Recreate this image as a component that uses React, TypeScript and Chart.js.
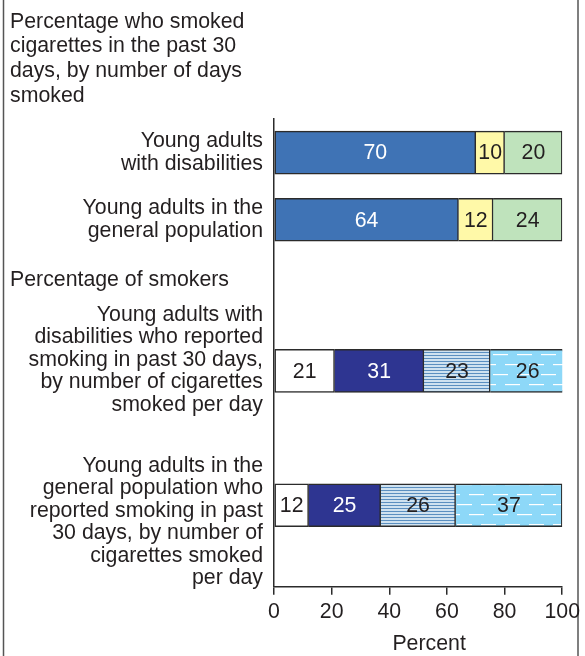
import React, { useEffect, useRef } from "react";
import { Chart, registerables } from "chart.js";

Chart.register(...registerables);

// ---------- Data ----------
const TITLE_LINES = [
  "Percentage who smoked",
  "cigarettes in the past 30",
  "days, by number of days",
  "smoked",
];
const SECTION_LABEL = "Percentage of smokers";
const X_TITLE = "Percent";

const CATEGORIES: string[][] = [
  ["Young adults", "with disabilities"],
  ["Young adults in the", "general population"],
  [
    "Young adults with",
    "disabilities who reported",
    "smoking in past 30 days,",
    "by number of cigarettes",
    "smoked per day",
  ],
  [
    "Young adults in the",
    "general population who",
    "reported smoking in past",
    "30 days, by number of",
    "cigarettes smoked",
    "per day",
  ],
];

const X_TICKS = [0, 20, 40, 60, 80, 100];

// Days smoked in past 30 days (rows 1-2)
const DAYS_SEG1 = [70, 64];
const DAYS_SEG2 = [10, 12];
const DAYS_SEG3 = [20, 24];

// Cigarettes smoked per day (rows 3-4)
const CIGS_SEG1 = [21, 12];
const CIGS_SEG2 = [31, 25];
const CIGS_SEG3 = [23, 26];
const CIGS_SEG4 = [26, 37];

// ---------- Layout / style ----------
const ROW_SLOTS = [2, 6, 15, 23];
const Y_MAX = 27.85;
const LABEL_SHIFT = [0, 0, -11, 17];
const LABEL_LINE_HEIGHT = 22.5;
const FONT_SIZE = 21.3;
const FONT = "'Liberation Sans', Arial, Helvetica, sans-serif";
const TEXT = "#231f20";
const EDGE = "#2b2b2b";

function makeHatch(): CanvasPattern | string {
  const c = document.createElement("canvas");
  c.width = 4;
  c.height = 3;
  const g = c.getContext("2d");
  if (!g) return "#a9c6df";
  g.fillStyle = "#cfe2f0";
  g.fillRect(0, 0, 4, 3);
  g.fillStyle = "#5b8fc0";
  g.fillRect(0, 1, 4, 1);
  return g.createPattern(c, "repeat") || "#a9c6df";
}

function makeDash(): CanvasPattern | string {
  const c = document.createElement("canvas");
  c.width = 24;
  c.height = 20;
  const g = c.getContext("2d");
  if (!g) return "#8dd8f8";
  g.fillStyle = "#8dd8f8";
  g.fillRect(0, 0, 24, 20);
  g.fillStyle = "#ffffff";
  g.fillRect(1, 4, 15, 1.2);
  g.fillRect(13, 14, 11, 1.2);
  g.fillRect(0, 14, 4, 1.2);
  return g.createPattern(c, "repeat") || "#8dd8f8";
}

function rows(values: number[], offset: number) {
  return values.map((v, i) => ({ x: v, y: ROW_SLOTS[offset + i] }));
}

export default function App() {
  const ref = useRef<HTMLCanvasElement | null>(null);

  useEffect(() => {
    const canvas = ref.current;
    if (!canvas) return;
    const hatch = makeHatch();
    const dash = makeDash();

    const base = {
      borderColor: EDGE,
      borderWidth: 1.5,
      barThickness: 43,
    };

    const datasets: any[] = [
      { label: "Days seg 1", data: rows(DAYS_SEG1, 0), backgroundColor: "#3f73b5", borderSkipped: false, valueColor: "#ffffff", ...base },
      { label: "Days seg 2", data: rows(DAYS_SEG2, 0), backgroundColor: "#fff9a8", borderSkipped: "start", valueColor: TEXT, ...base },
      { label: "Days seg 3", data: rows(DAYS_SEG3, 0), backgroundColor: "#bfe3bc", borderSkipped: "start", valueColor: TEXT, ...base },
      { label: "Cigs seg 1", data: rows(CIGS_SEG1, 2), backgroundColor: "#ffffff", borderSkipped: false, valueColor: TEXT, ...base },
      { label: "Cigs seg 2", data: rows(CIGS_SEG2, 2), backgroundColor: "#2e3591", borderSkipped: "start", valueColor: "#ffffff", ...base },
      { label: "Cigs seg 3", data: rows(CIGS_SEG3, 2), backgroundColor: hatch, borderSkipped: "start", valueColor: TEXT, ...base },
      { label: "Cigs seg 4", data: rows(CIGS_SEG4, 2), backgroundColor: dash, borderSkipped: "start", valueColor: TEXT, ...base },
    ];

    const textPlugin = {
      id: "extraText",
      beforeDraw(chart: any) {
        const ctx = chart.ctx;
        ctx.save();
        ctx.fillStyle = "#ffffff";
        ctx.fillRect(0, 0, chart.width, chart.height);
        ctx.strokeStyle = "#555555";
        ctx.lineWidth = 1.5;
        ctx.beginPath();
        ctx.moveTo(3.5, 0);
        ctx.lineTo(3.5, chart.height);
        ctx.moveTo(578, 0);
        ctx.lineTo(578, chart.height);
        ctx.stroke();
        ctx.restore();
      },
      afterDatasetsDraw(chart: any) {
        const ctx = chart.ctx;
        ctx.save();
        ctx.font = `${FONT_SIZE}px ${FONT}`;
        ctx.textAlign = "center";
        ctx.textBaseline = "middle";
        chart.data.datasets.forEach((ds: any, di: number) => {
          const meta = chart.getDatasetMeta(di);
          meta.data.forEach((el: any, i: number) => {
            const v = ds.data[i].x;
            const p = el.getProps(["x", "y", "base"], true);
            ctx.fillStyle = ds.valueColor;
            ctx.fillText(String(v), (p.x + p.base) / 2, p.y + 1);
          });
        });
        ctx.restore();
      },
      afterDraw(chart: any) {
        const ctx = chart.ctx;
        const ys = chart.scales.y;
        ctx.save();
        ctx.font = `${FONT_SIZE}px ${FONT}`;
        ctx.fillStyle = TEXT;
        ctx.textBaseline = "middle";
        ctx.textAlign = "right";
        CATEGORIES.forEach((lines, i) => {
          const c = ys.getPixelForValue(ROW_SLOTS[i]) + LABEL_SHIFT[i];
          const first = c - ((lines.length - 1) * LABEL_LINE_HEIGHT) / 2;
          lines.forEach((t, j) => ctx.fillText(t, ys.right - 11, first + j * LABEL_LINE_HEIGHT));
        });
        ctx.textAlign = "left";
        ctx.textBaseline = "alphabetic";
        TITLE_LINES.forEach((t, i) => ctx.fillText(t, 10, 27.5 + i * 24.8));
        ctx.fillText(SECTION_LABEL, 10, 286);
        ctx.textAlign = "center";
        const xs = chart.scales.x;
        ctx.fillText(X_TITLE, (xs.left + xs.right) / 2 + 11, 650);
        ctx.restore();
      },
    };

    const chart = new Chart(canvas, {
      type: "bar",
      data: { datasets },
      plugins: [textPlugin],
      options: {
        indexAxis: "y",
        animation: false,
        responsive: false,
        devicePixelRatio: 1,
        layout: { padding: { top: 119, left: 0, right: 22.5, bottom: 0 } },
        plugins: { legend: { display: false }, tooltip: { enabled: false } },
        scales: {
          x: {
            type: "linear",
            min: 0,
            max: 100,
            stacked: true,
            afterBuildTicks: (s: any) => {
              s.ticks = X_TICKS.map((v) => ({ value: v }));
            },
            afterFit: (s: any) => {
              s.height = 69.3;
            },
            grid: {
              display: true,
              drawOnChartArea: false,
              drawTicks: true,
              tickLength: 8,
              color: EDGE,
              lineWidth: 1.5,
            },
            border: { display: true, color: EDGE, width: 1.5 },
            ticks: {
              padding: 5,
              color: TEXT,
              font: { family: FONT, size: FONT_SIZE },
            },
          },
          y: {
            type: "linear",
            reverse: true,
            offset: false,
            min: 0,
            max: Y_MAX,
            stacked: true,
            afterFit: (s: any) => {
              s.width = 274;
              s.paddingTop = 0;
              s.paddingBottom = 0;
            },
            grid: { display: false, offset: false },
            border: { display: true, color: EDGE, width: 1.5 },
            ticks: { display: false },
          },
        },
      } as any,
    });

    return () => chart.destroy();
  }, []);

  return (
    <div style={{ position: "fixed", left: 0, top: 0, width: 585, height: 656, background: "#fff" }}>
      <canvas ref={ref} width={585} height={656} style={{ width: 585, height: 656, display: "block" }} />
    </div>
  );
}
